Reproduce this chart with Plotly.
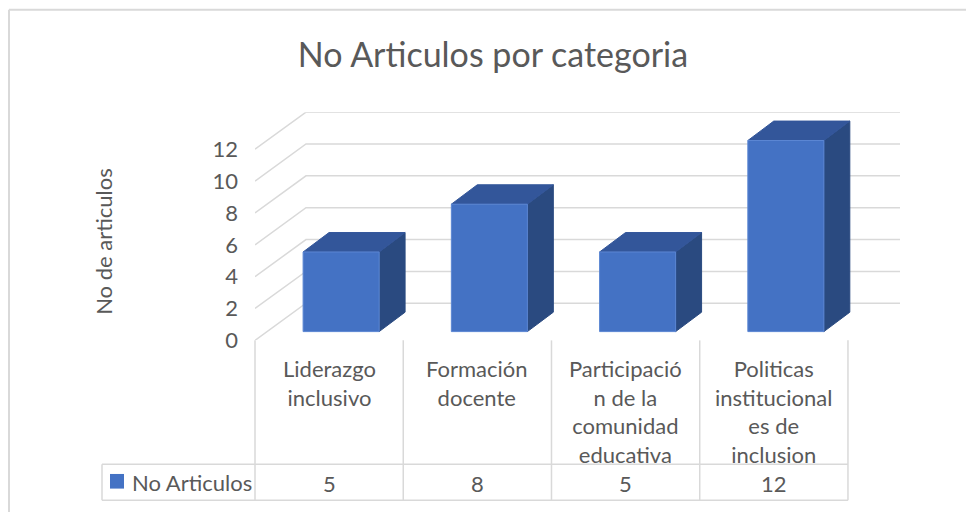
import plotly.graph_objects as go

# ── Data ─────────────────────────────────────────────────────────────────────
categories = [
    "Liderazgo<br>inclusivo",
    "Formación<br>docente",
    "Participació<br>n de la<br>comunidad<br>educativa",
    "Politicas<br>institucional<br>es de<br>inclusion",
]
series_name = "No Articulos"
values = [5, 8, 5, 12]
y_ticks = [0, 2, 4, 6, 8, 10, 12]

# ── Style / geometry ────────────────────────────────────────────────────────
W, H = 966, 525
FONT = "Lato"
TXT = "#595959"
GRID = "#d9d9d9"
FRONT, TOP, SIDE = "#4472C4", "#33569A", "#2A4A80"

X_RANGE = [-0.5, 3.851]          # category units
Y_RANGE = [0, 14.33]             # value units (front plane)
X_DOM = [255 / W, 900 / W]
Y_DOM = [(H - 349) / H, (H - 115) / H]

WALL_DX, WALL_DY = 0.344, 2.33   # depth of the floor / wall
BAR_W = 0.513
BAR_SHIFT, BAR_BASE = 0.081, 0.55
BAR_DX, BAR_DY = 0.175, 1.22


def xp(u):
    """category units -> paper x"""
    return X_DOM[0] + (u - X_RANGE[0]) / (X_RANGE[1] - X_RANGE[0]) * (X_DOM[1] - X_DOM[0])


def yp(px):
    """pixel row -> paper y"""
    return (H - px) / H


fig = go.Figure()

# back-wall gridlines with the diagonal on the side wall
gx, gy = [], []
for t in y_ticks:
    gx += [X_RANGE[0], X_RANGE[0] + WALL_DX, X_RANGE[1], None]
    gy += [t, t + WALL_DY, t + WALL_DY, None]
fig.add_trace(go.Scatter(x=gx, y=gy, mode="lines", line=dict(color=GRID, width=1.5),
                         hoverinfo="skip", showlegend=False))

# 3D columns: side, top and front faces
for i, v in enumerate(values):
    xl = i - BAR_W / 2 + BAR_SHIFT
    xr = xl + BAR_W
    yb, yt = BAR_BASE, BAR_BASE + v
    faces = [
        ([xr, xr + BAR_DX, xr + BAR_DX, xr, xr],
         [yb, yb + BAR_DY, yt + BAR_DY, yt, yb], SIDE, SIDE),
        ([xl, xr, xr + BAR_DX, xl + BAR_DX, xl],
         [yt, yt, yt + BAR_DY, yt + BAR_DY, yt], TOP, TOP),
        ([xl, xr, xr, xl, xl],
         [yb, yb, yt, yt, yb], FRONT, "#5B86D3"),
    ]
    for fx, fy, fc, lc in faces:
        fig.add_trace(go.Scatter(x=fx, y=fy, mode="lines", fill="toself", fillcolor=fc,
                                 line=dict(color=lc, width=1), hoverinfo="skip",
                                 showlegend=False))

# ── Data table ───────────────────────────────────────────────────────────────
shapes = []
line = dict(color=GRID, width=1.5)
n = len(values)
for k in range(n + 1):
    xb = xp(k - 0.5)
    shapes.append(dict(type="line", xref="paper", yref="paper",
                       x0=xb, x1=xb, y0=yp(349), y1=yp(513), line=line))
leg_left = 102 / W
for row in (476, 513):
    shapes.append(dict(type="line", xref="paper", yref="paper",
                       x0=leg_left, x1=xp(n - 0.5), y0=yp(row), y1=yp(row), line=line))
shapes.append(dict(type="line", xref="paper", yref="paper",
                   x0=leg_left, x1=leg_left, y0=yp(476), y1=yp(513), line=line))
# legend key
shapes.append(dict(type="rect", xref="paper", yref="paper", x0=110 / W, x1=124 / W,
                   y0=yp(501), y1=yp(486), fillcolor=FRONT, line=dict(width=0)))
# outer chart border (top and left visible)
shapes.append(dict(type="line", xref="paper", yref="paper", x0=9 / W, x1=1,
                   y0=yp(10), y1=yp(10), line=dict(color=GRID, width=2)))
shapes.append(dict(type="line", xref="paper", yref="paper", x0=9 / W, x1=9 / W,
                   y0=yp(10), y1=0, line=dict(color=GRID, width=2)))

annotations = []
for i, (cat, v) in enumerate(zip(categories, values)):
    annotations.append(dict(x=i, xref="x", y=yp(363), yref="paper", text=cat,
                            showarrow=False, xanchor="center", yanchor="top",
                            borderpad=0,
                            font=dict(family=FONT, size=22, color=TXT)))
    annotations.append(dict(x=i, xref="x", y=yp(496), yref="paper", text=str(v),
                            showarrow=False, xanchor="center", yanchor="middle",
                            borderpad=0,
                            font=dict(family=FONT, size=22, color=TXT)))
annotations.append(dict(x=130 / W, xref="paper", y=yp(495), yref="paper", text=series_name,
                        showarrow=False, xanchor="left", yanchor="middle",
                        font=dict(family=FONT, size=22, color=TXT)))
annotations.append(dict(x=104 / W, xref="paper", y=yp(248), yref="paper",
                        text="No de articulos", textangle=-90, showarrow=False,
                        xanchor="center", yanchor="middle",
                        font=dict(family=FONT, size=22, color=TXT)))

fig.update_layout(
    width=W, height=H,
    margin=dict(l=0, r=0, t=0, b=0),
    paper_bgcolor="white", plot_bgcolor="rgba(0,0,0,0)",
    title=dict(text="No Articulos por categoria", x=493 / W, y=yp(55),
               xanchor="center", yanchor="middle",
               font=dict(family=FONT, size=34, color=TXT)),
    xaxis=dict(domain=X_DOM, range=X_RANGE, visible=False, fixedrange=True),
    yaxis=dict(domain=Y_DOM, range=Y_RANGE, tickvals=y_ticks, showgrid=False,
               zeroline=False, showline=False, ticks="", ticklabelstandoff=16,
               tickfont=dict(family=FONT, size=22, color=TXT), fixedrange=True),
    shapes=shapes,
    annotations=annotations,
    showlegend=False,
)

fig.write_html("out.html", config={"displayModeBar": False},
               post_script="document.body.style.margin='0';")
